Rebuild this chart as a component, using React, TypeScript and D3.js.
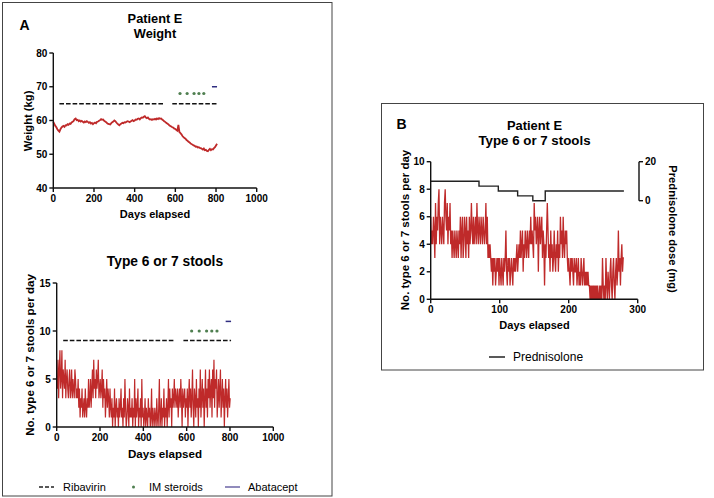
import React from "react";
import * as d3 from "d3";

// ---------------- DATA ----------------
// Panel A, weight (kg), sampled every 5 days from day 0
const weightStep = 5;
const weightValues = [
  59.6, 59.0, 58.4, 58.0, 57.4, 57.0, 56.7, 57.4, 57.9, 58.2, 58.4, 58.1, 58.6, 58.5, 58.9, 58.7,
  59.1, 59.0, 59.4, 59.6, 59.9, 60.4, 60.6, 60.1, 60.2, 59.8, 60.0, 59.7, 59.9, 59.6, 59.4, 59.7,
  59.5, 59.8, 59.6, 59.3, 59.5, 59.1, 59.3, 58.9, 59.2, 59.4, 59.2, 59.6, 59.7, 59.9, 60.1, 60.4,
  60.2, 60.3, 59.9, 59.7, 59.5, 59.2, 59.0, 58.9, 58.8, 59.2, 59.5, 59.7, 60.0, 59.8, 59.4, 59.1,
  58.8, 58.6, 58.9, 59.1, 59.3, 59.2, 59.5, 59.4, 59.6, 59.8, 59.7, 59.5, 59.7, 59.9, 60.1, 59.8,
  60.0, 60.3, 60.2, 60.5, 60.6, 60.3, 60.7, 60.9, 60.8, 61.1, 61.3, 60.9, 60.7, 60.9, 60.5, 60.3,
  60.4, 60.2, 60.4, 60.3, 60.5, 60.3, 60.6, 60.4, 60.7, 60.5, 60.6, 60.3, 60.1, 59.8, 59.6, 59.3,
  59.1, 58.9, 58.6, 58.4, 58.2, 58.0, 57.9, 57.6, 57.5, 57.2, 57.0, 58.7, 56.6, 56.3, 55.9, 55.4,
  55.1, 54.8, 54.6, 54.2, 54.0, 53.7, 53.5, 53.2, 53.0, 52.8, 52.6, 52.5, 52.2, 52.3, 52.0, 52.1,
  51.9, 51.8, 51.6, 51.4, 51.7, 51.2, 51.3, 51.0, 50.9, 51.3, 51.6, 51.2, 51.5, 51.4, 51.8, 52.1,
  52.6, 53.1,
];

// Panel A, type 6 or 7 stools per day, sampled every 3 days from day 0
const stoolsAStep = 3;
const stoolsAValues = [
  5, 4, 7, 3, 6, 8, 4, 5, 8, 3, 6, 5, 4, 7, 3, 5, 6,
  4, 3, 5, 6, 3, 4, 6, 3, 5, 4, 3, 6, 5, 3, 4, 3, 5,
  2, 4, 1, 3, 2, 4, 1, 2, 3, 1, 4, 2, 1, 3, 2, 5, 2,
  3, 5, 2, 4, 6, 3, 7, 4, 5, 3, 6, 4, 5, 7, 3, 4,
  5, 3, 4, 6, 2, 5, 3, 4, 1, 3, 5, 2, 4, 3, 1, 4, 2,
  1, 3, 0, 2, 1, 4, 0, 2, 3, 1, 2, 0, 3, 1, 2, 4, 1,
  2, 0, 3, 1, 5, 2, 0, 1, 3, 2, 0, 4, 1, 2, 1, 3, 0,
  2, 1, 5, 0, 3, 1, 2, 4, 0, 2, 1, 3, 0, 5, 1, 2, 0,
  1, 3, 0, 2, 1, 0, 3, 1, 2, 0, 1, 4, 0, 2, 1, 0, 2,
  1, 0, 3, 1, 0, 2, 5, 0, 1, 3, 0, 2, 1, 4, 0, 2,
  1, 3, 0, 2, 5, 1, 4, 2, 3, 0, 4, 2, 3, 5, 2, 4,
  3, 2, 4, 1, 3, 4, 2, 5, 3, 0, 4, 2, 3, 4, 1, 3, 2,
  4, 0, 3, 5, 2, 4, 1, 3, 6, 2, 0, 4, 3, 1, 5, 2, 3,
  0, 4, 2, 6, 1, 3, 5, 2, 4, 0, 3, 6, 2, 4, 1, 5,
  3, 6, 2, 4, 5, 1, 6, 3, 7, 2, 5, 4, 6, 1, 3, 5, 2,
  4, 6, 1, 3, 5, 2, 4, 0, 3, 5, 2, 4, 1, 3, 5, 2, 3,
];

// Treatments (panel A)
const ribavirinPeriods = [[30, 545], [585, 805]];
const steroidDays = [623, 658, 692, 716, 740];
const abataceptPeriod = [780, 805];
const ribavirinLevelWeight = 65;
const steroidLevelWeight = 68;
const abataceptLevelWeight = 70;
const ribavirinLevelStools = 9;
const steroidLevelStools = 10;
const abataceptLevelStools = 11;

// Panel B, daily stools, day 0..280
const stoolsBValues = [
  6, 4, 5, 4, 6, 5, 3, 7, 4, 6,
  5, 7, 8, 4, 6, 5, 4, 6, 5, 4,
  7, 8, 6, 5, 7, 4, 6, 5, 7, 4,
  5, 3, 5, 4, 3, 5, 4, 3, 5, 4,
  3, 5, 4, 6, 3, 5, 6, 3, 4, 6,
  5, 3, 6, 4, 5, 3, 6, 4, 5, 7,
  5, 4, 6, 4, 5, 6, 4, 7, 5, 4,
  6, 5, 4, 6, 5, 4, 6, 5, 4, 5,
  7, 4, 6, 3, 4, 3, 4, 3, 2, 3,
  1, 3, 2, 3, 1, 2, 3, 2, 3, 1,
  3, 2, 1, 3, 2, 1, 3, 2, 3, 5,
  2, 1, 3, 2, 3, 1, 2, 3, 2, 1,
  3, 2, 3, 2, 3, 4, 2, 3, 4, 3,
  5, 3, 4, 5, 2, 4, 3, 5, 4, 3,
  5, 4, 3, 5, 4, 6, 4, 5, 4, 3,
  7, 5, 6, 4, 5, 6, 2, 5, 6, 4,
  5, 6, 3, 5, 4, 1, 4, 3, 5, 7,
  5, 3, 4, 2, 5, 3, 4, 2, 3, 5,
  3, 2, 4, 3, 5, 2, 4, 3, 6, 4,
  5, 3, 6, 4, 3, 5, 4, 5, 3, 2,
  3, 2, 1, 3, 2, 3, 2, 1, 3, 2,
  2, 3, 1, 2, 3, 1, 2, 1, 3, 2,
  1, 2, 3, 1, 2, 1, 2, 1, 2, 1,
  1, 0, 1, 0, 1, 0, 1, 0, 1, 0,
  1, 0, 1, 0, 0, 1, 0, 1, 0, 3,
  1, 0, 1, 0, 3, 1, 0, 2, 1, 0,
  2, 3, 1, 0, 2, 3, 1, 0, 2, 3,
  1, 2, 5, 2, 3, 1, 3, 4, 2, 3,
  3,
];

// Prednisolone dose steps (panel B)
const prednisoloneDays = [0, 70, 98, 126, 148, 166, 280];
const prednisoloneDose = [10, 7.5, 5, 2.5, 0, 5, 5];

// Tick labels
const weightTicks = [40, 50, 60, 70, 80];
const daysTicksA = [0, 200, 400, 600, 800, 1000];
const stoolTicksA = [0, 5, 10, 15];
const stoolTicksB = [0, 2, 4, 6, 8, 10];
const daysTicksB = [0, 100, 200, 300];
const doseTicks = [0, 20];

// ---------------- STYLE ----------------
const FONT = "'Liberation Sans', Arial, Helvetica, sans-serif";
const RED = "#bf2a2a";
const GREEN = "#4f7f50";
const NAVY = "#2f2d80";
const AXIS = "#111";

type Scale = d3.ScaleLinear<number, number>;

function XAxis({ x, y, ticks, size = 10 }: { x: Scale; y: number; ticks: number[]; size?: number }) {
  const [r0, r1] = x.range();
  return (
    <g>
      <line x1={r0} x2={r1} y1={y} y2={y} stroke={AXIS} strokeWidth={1.4} />
      {ticks.map((t) => (
        <g key={t}>
          <line x1={x(t)} x2={x(t)} y1={y} y2={y + 4} stroke={AXIS} strokeWidth={1.4} />
          <text x={x(t)} y={y + 14} textAnchor="middle" fontSize={size} fontWeight="bold" fontFamily={FONT}>
            {t}
          </text>
        </g>
      ))}
    </g>
  );
}

function YAxis({ x, y, ticks, size = 10, right = false }: { x: number; y: Scale; ticks: number[]; size?: number; right?: boolean }) {
  const [r0, r1] = y.range();
  const dir = right ? 1 : -1;
  return (
    <g>
      <line x1={x} x2={x} y1={r0} y2={r1} stroke={AXIS} strokeWidth={1.4} />
      {ticks.map((t) => (
        <g key={t}>
          <line x1={x} x2={x + dir * 4} y1={y(t)} y2={y(t)} stroke={AXIS} strokeWidth={1.4} />
          <text
            x={x + dir * 6}
            y={y(t)}
            dy="0.35em"
            textAnchor={right ? "start" : "end"}
            fontSize={size}
            fontWeight="bold"
            fontFamily={FONT}
          >
            {t}
          </text>
        </g>
      ))}
    </g>
  );
}

function VLabel({ x, y, text, size = 11.3, rot = -90 }: { x: number; y: number; text: string; size?: number; rot?: number }) {
  return (
    <text
      transform={`translate(${x},${y}) rotate(${rot})`}
      textAnchor="middle"
      dominantBaseline="central"
      fontSize={size}
      fontWeight="bold"
      fontFamily={FONT}
    >
      {text}
    </text>
  );
}

export default function App() {
  // scales
  const xA1 = d3.scaleLinear().domain([0, 1000]).range([53.3, 256.7]);
  const yA1 = d3.scaleLinear().domain([40, 80]).range([188, 53]);
  const xA2 = d3.scaleLinear().domain([0, 1000]).range([56.7, 273.3]);
  const yA2 = d3.scaleLinear().domain([0, 15]).range([427, 283]);
  const xB = d3.scaleLinear().domain([0, 300]).range([430.7, 637.7]);
  const yB = d3.scaleLinear().domain([0, 10]).range([299.3, 161.7]);
  const yB2 = d3.scaleLinear().domain([0, 20]).range([200.7, 161.7]);

  const weightData = weightValues.map((v, i) => [i * weightStep, v] as [number, number]);
  const stoolsAData = stoolsAValues.map((v, i) => [i * stoolsAStep, v] as [number, number]);
  const stoolsBData = stoolsBValues.map((v, i) => [i, v] as [number, number]);
  const predData = prednisoloneDays.map((d, i) => [d, prednisoloneDose[i]] as [number, number]);

  const lineW = d3.line<[number, number]>().x((d) => xA1(d[0])).y((d) => yA1(d[1]));
  const lineSA = d3.line<[number, number]>().x((d) => xA2(d[0])).y((d) => yA2(d[1]));
  const lineSB = d3.line<[number, number]>().x((d) => xB(d[0])).y((d) => yB(d[1]));
  const lineP = d3
    .line<[number, number]>()
    .x((d) => xB(d[0]))
    .y((d) => yB2(d[1]))
    .curve(d3.curveStepAfter);

  const treatments = (x: Scale, y: Scale, rib: number, ster: number, aba: number) => (
    <g>
      {ribavirinPeriods.map(([a, b], i) => (
        <line key={i} x1={x(a)} x2={x(b)} y1={y(rib)} y2={y(rib)} stroke="#111" strokeWidth={1.5} strokeDasharray="4.6,2" />
      ))}
      {steroidDays.map((d, i) => (
        <circle key={i} cx={x(d)} cy={y(ster)} r={1.6} fill={GREEN} />
      ))}
      <line x1={x(abataceptPeriod[0])} x2={x(abataceptPeriod[1])} y1={y(aba)} y2={y(aba)} stroke={NAVY} strokeWidth={1.5} />
    </g>
  );

  return (
    <svg
      width={714}
      height={498}
      viewBox="0 0 714 498"
      style={{ position: "absolute", left: 0, top: 0, background: "#fff" }}
    >
      <rect x={0} y={0} width={714} height={498} fill="#fff" />
      {/* Panel frames */}
      <rect x={2.5} y={2.5} width={329.5} height={493.5} fill="none" stroke="#444" strokeWidth={1} />
      <rect x={381.5} y={103.5} width={322} height={266.5} fill="none" stroke="#444" strokeWidth={1} />

      {/* ---------- Panel A ---------- */}
      <text x={19.5} y={29.5} fontSize={14} fontWeight="bold" fontFamily={FONT}>A</text>
      <text x={155} y={22.7} textAnchor="middle" fontSize={12.8} fontWeight="bold" fontFamily={FONT}>Patient E</text>
      <text x={155} y={37.8} textAnchor="middle" fontSize={12.8} fontWeight="bold" fontFamily={FONT}>Weight</text>

      <path d={lineW(weightData) || ""} fill="none" stroke={RED} strokeWidth={1.8} strokeLinejoin="miter" />
      {treatments(xA1, yA1, ribavirinLevelWeight, steroidLevelWeight, abataceptLevelWeight)}
      <YAxis x={53.3} y={yA1} ticks={weightTicks} />
      <XAxis x={xA1} y={188} ticks={daysTicksA} />
      <text x={155} y={218} textAnchor="middle" fontSize={11} fontWeight="bold" fontFamily={FONT}>Days elapsed</text>
      <VLabel x={28} y={121} text="Weight (kg)" size={11.2} />

      <text x={165} y={266} textAnchor="middle" fontSize={13.8} fontWeight="bold" fontFamily={FONT}>Type 6 or 7 stools</text>
      <path d={lineSA(stoolsAData) || ""} fill="none" stroke={RED} strokeWidth={1.2} />
      {treatments(xA2, yA2, ribavirinLevelStools, steroidLevelStools, abataceptLevelStools)}
      <YAxis x={56.7} y={yA2} ticks={stoolTicksA} />
      <XAxis x={xA2} y={427} ticks={daysTicksA} />
      <text x={165} y={458} textAnchor="middle" fontSize={11.6} fontWeight="bold" fontFamily={FONT}>Days elapsed</text>
      <VLabel x={29} y={355} text="No. type 6 or 7 stools per day" size={11.6} />

      {/* Legend A */}
      <line x1={39} x2={54} y1={487} y2={487} stroke="#222" strokeWidth={1.3} strokeDasharray="4,2" />
      <text x={63} y={491} fontSize={11} fontFamily={FONT}>Ribavirin</text>
      <circle cx={133.5} cy={487} r={1.5} fill={GREEN} />
      <text x={149} y={491} fontSize={11} fontFamily={FONT}>IM steroids</text>
      <line x1={225} x2={240} y1={487} y2={487} stroke="#6d64a6" strokeWidth={1.5} />
      <text x={248} y={491} fontSize={11} fontFamily={FONT}>Abatacept</text>

      {/* ---------- Panel B ---------- */}
      <text x={396.5} y={128.5} fontSize={14} fontWeight="bold" fontFamily={FONT}>B</text>
      <text x={534.5} y={129.5} textAnchor="middle" fontSize={12.9} fontWeight="bold" fontFamily={FONT}>Patient E</text>
      <text x={534.5} y={145} textAnchor="middle" fontSize={13.3} fontWeight="bold" fontFamily={FONT}>Type 6 or 7 stools</text>

      <path d={lineSB(stoolsBData) || ""} fill="none" stroke={RED} strokeWidth={1.3} />
      <path d={lineP(predData) || ""} fill="none" stroke="#222" strokeWidth={1.4} />
      <YAxis x={430.7} y={yB} ticks={stoolTicksB} />
      <XAxis x={xB} y={299.3} ticks={daysTicksB} />
      <YAxis x={639} y={yB2} ticks={doseTicks} right />
      <text x={534.5} y={329} textAnchor="middle" fontSize={11} fontWeight="bold" fontFamily={FONT}>Days elapsed</text>
      <VLabel x={405} y={230} text="No. type 6 or 7 stools per day" size={11.5} />
      <VLabel x={673} y={229} text="Prednisolone dose (mg)" size={11.2} rot={90} />

      {/* Legend B */}
      <line x1={489} x2={505} y1={357} y2={357} stroke="#222" strokeWidth={1.5} />
      <text x={513} y={361} fontSize={12} fontFamily={FONT}>Prednisolone</text>
    </svg>
  );
}
